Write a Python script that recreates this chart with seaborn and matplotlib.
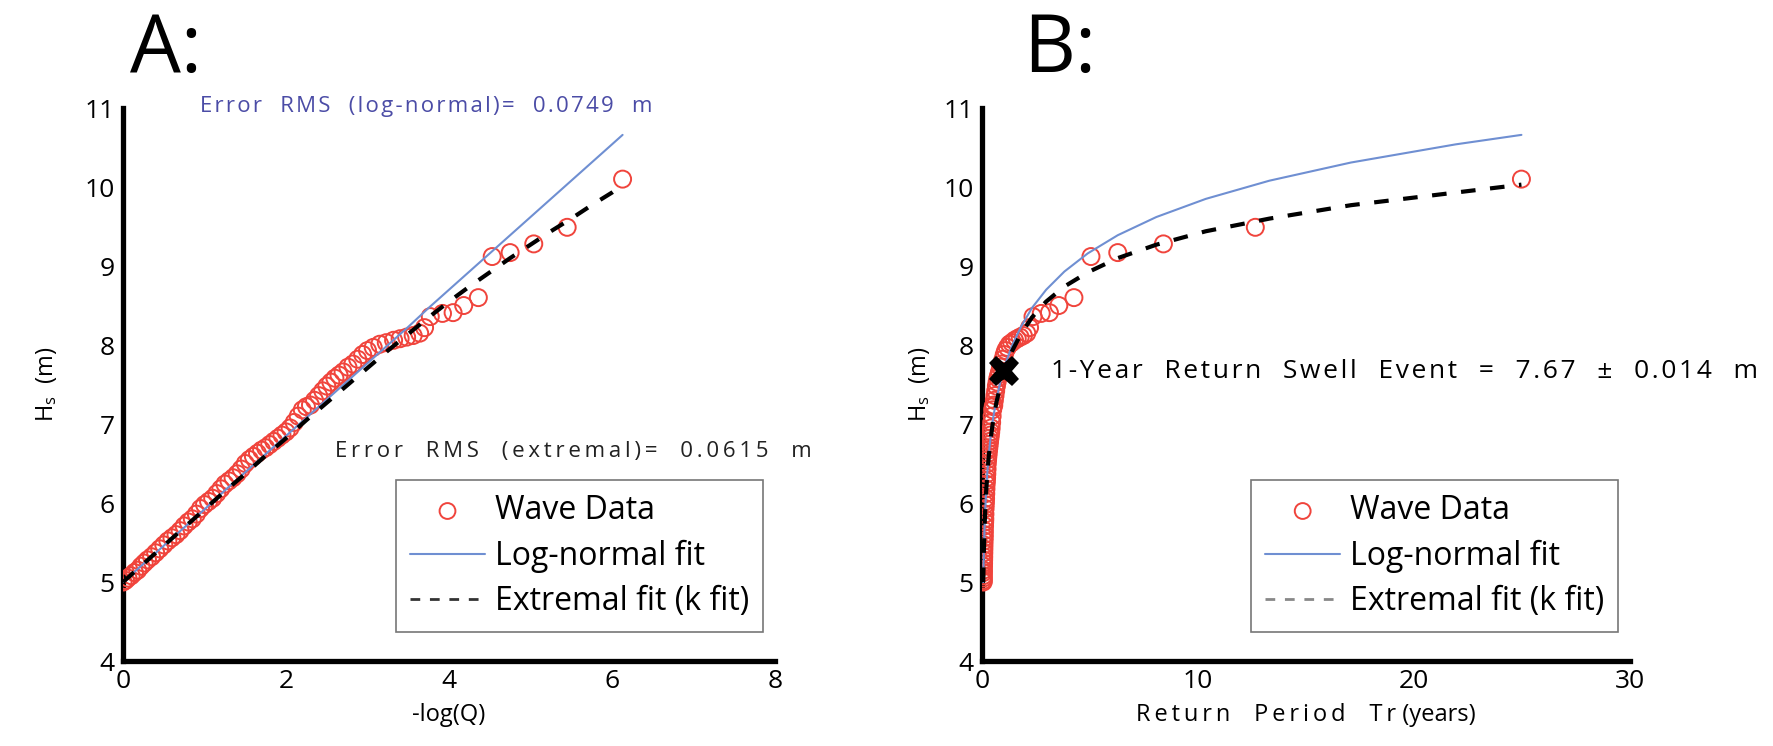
import numpy as np
import pandas as pd
import matplotlib
matplotlib.use("Agg")
import matplotlib.pyplot as plt
import seaborn as sns

# -----------------------------------------------------------------------------
# Data
# -----------------------------------------------------------------------------

# wave data: -log(Q) and significant wave height Hs (m)
neglogq = [
    0.00, 0.03, 0.06, 0.10, 0.14, 0.18, 0.22, 0.26, 0.30, 0.35,
    0.40, 0.45, 0.50, 0.55, 0.60, 0.65, 0.70, 0.75, 0.80, 0.85,
    0.90, 0.95, 1.00, 1.05, 1.10, 1.15, 1.20, 1.25, 1.30, 1.35,
    1.40, 1.45, 1.50, 1.55, 1.60, 1.65, 1.70, 1.75, 1.80, 1.85,
    1.90, 1.95, 2.00, 2.05, 2.10, 2.15, 2.20, 2.25, 2.30, 2.35,
    2.40, 2.45, 2.50, 2.55, 2.60, 2.65, 2.70, 2.76, 2.82, 2.88,
    2.94, 3.00, 3.07, 3.15, 3.23, 3.32, 3.40, 3.48, 3.56, 3.64,
    3.70, 3.77, 3.92, 4.05, 4.18, 4.36, 4.53, 4.75, 5.04, 5.45,
    6.13,
]
hs_data = [
    5.00, 5.02, 5.05, 5.08, 5.12, 5.15, 5.20, 5.24, 5.28, 5.32,
    5.37, 5.42, 5.47, 5.52, 5.56, 5.60, 5.65, 5.71, 5.76, 5.80,
    5.86, 5.93, 5.98, 6.02, 6.06, 6.12, 6.18, 6.24, 6.28, 6.32,
    6.37, 6.43, 6.50, 6.55, 6.59, 6.63, 6.67, 6.70, 6.74, 6.78,
    6.82, 6.86, 6.90, 6.95, 7.02, 7.10, 7.18, 7.22, 7.24, 7.30,
    7.36, 7.42, 7.48, 7.53, 7.58, 7.62, 7.66, 7.72, 7.76, 7.82,
    7.88, 7.93, 7.97, 8.01, 8.03, 8.06, 8.08, 8.10, 8.12, 8.15,
    8.22, 8.36, 8.40, 8.41, 8.50, 8.60, 9.12, 9.17, 9.28, 9.49,
    10.10,
]

# fitted curves, sampled in -log(Q)
fit_x = [0.0, 0.25, 0.5, 0.75, 1.0, 1.25, 1.5, 1.75, 2.0, 2.25, 2.5, 2.75,
         3.0, 3.25, 3.5, 3.75, 4.0, 4.25, 4.5, 4.75, 5.0, 5.25, 5.5, 5.75,
         6.0, 6.13]
lognormal_hs = [5.00, 5.23, 5.46, 5.69, 5.92, 6.16, 6.39, 6.62, 6.85, 7.08,
                7.31, 7.54, 7.77, 8.00, 8.23, 8.47, 8.70, 8.93, 9.16, 9.39,
                9.62, 9.85, 10.08, 10.31, 10.54, 10.66]
extremal_hs = [5.00, 5.23, 5.46, 5.69, 5.92, 6.15, 6.37, 6.60, 6.82, 7.05,
               7.27, 7.49, 7.71, 7.93, 8.14, 8.35, 8.55, 8.74, 8.92, 9.10,
               9.27, 9.44, 9.60, 9.77, 9.93, 10.03]

# events per year (links -log(Q) to return period Tr)
events_per_year = 18.4

one_year_tr = 1.0
one_year_hs = 7.67

rms_lognormal = 0.0749
rms_extremal = 0.0615

# -----------------------------------------------------------------------------
# Tables
# -----------------------------------------------------------------------------
waves = pd.DataFrame({"neglogq": neglogq, "hs": hs_data})
waves["tr"] = np.exp(waves["neglogq"]) / events_per_year

fits = pd.DataFrame({"neglogq": fit_x, "lognormal": lognormal_hs,
                     "extremal": extremal_hs})
fits["tr"] = np.exp(fits["neglogq"]) / events_per_year

# -----------------------------------------------------------------------------
# Style
# -----------------------------------------------------------------------------
sns.set_style("white")
plt.rcParams["font.family"] = ["Open Sans", "DejaVu Sans"]
plt.rcParams["mathtext.fontset"] = "custom"
plt.rcParams["mathtext.rm"] = "Open Sans"
plt.rcParams["mathtext.it"] = "Open Sans"
for key in ["text.color", "axes.labelcolor", "xtick.color", "ytick.color"]:
    plt.rcParams[key] = "black"

RED = "#f0443c"
BLUE = "#6f8fd2"
BLUE_TXT = "#4b4ca6"


def spaced(text, gap):
    # MATLAB-style letter spacing
    return gap.join(text)


fig = plt.figure(figsize=(17.73, 7.46), dpi=100)
ax_a = fig.add_axes([0.0694, 0.1139, 0.3677, 0.7413])
ax_b = fig.add_axes([0.5539, 0.1139, 0.3655, 0.7413])


def draw_panel(ax, xcol, ylabelpad):
    sns.scatterplot(data=waves, x=xcol, y="hs", ax=ax, marker="o",
                    facecolor="none", edgecolor=RED, linewidth=1.4, s=150,
                    label="Wave Data", zorder=3)
    sns.lineplot(data=fits, x=xcol, y="lognormal", ax=ax, color=BLUE,
                 linewidth=1.5, sort=False, label="Log-normal fit", zorder=4)
    sns.lineplot(data=fits, x=xcol, y="extremal", ax=ax, color="black",
                 linewidth=3.0, sort=False, dashes=False, zorder=5,
                 label="Extremal fit (k fit)")
    ax.lines[-1].set_linestyle((0, (3.5, 3.5)))

    ax.set_ylim(4, 11)
    ax.set_yticks(range(4, 12))
    for side in ["top", "right"]:
        ax.spines[side].set_visible(False)
    for side in ["left", "bottom"]:
        ax.spines[side].set_linewidth(3.8)
        ax.spines[side].set_color("black")
    ax.tick_params(axis="both", direction="in", length=4, width=3,
                   labelsize=19, pad=6)
    ax.set_ylabel(r"$\mathrm{H_s}$  (m)", fontsize=17, labelpad=ylabelpad)

    leg = ax.legend(loc="lower right", bbox_to_anchor=(0.982, 0.052),
                    fontsize=23, frameon=True, fancybox=False,
                    handlelength=2.35, handletextpad=0.3, borderpad=0.45,
                    labelspacing=0.38, borderaxespad=0)
    leg.get_frame().set_edgecolor("#555555")
    leg.get_frame().set_linewidth(1.2)
    leg.legend_handles[0].set_sizes([130])
    leg.legend_handles[2].set_linewidth(2.0)
    leg.legend_handles[2].set_color("#333333" if ax is ax_a else "#888888")


draw_panel(ax_a, "neglogq", 18)
ax_a.set_xlim(0, 8)
ax_a.set_xticks(range(0, 9, 2))
ax_a.set_xlabel("-log(Q)", fontsize=17, labelpad=6)
ax_a.text(0.95, 11.02,
          spaced(f"Error  RMS  (log-normal)=  {rms_lognormal:.4f}  m", "\u200a"),
          color=BLUE_TXT, fontsize=16, va="center", ha="left", clip_on=False)
ax_a.text(2.6, 6.65,
          spaced(f"Error  RMS  (extremal)=  {rms_extremal:.4f}  m", "\u2009"),
          color="#222222", fontsize=16, va="center", ha="left", clip_on=False)

draw_panel(ax_b, "tr", 8)
ax_b.set_xlim(0, 30)
ax_b.set_xticks(range(0, 31, 10))
ax_b.set_xlabel(spaced("Return  Period  Tr", "\u2009") + " (years)",
                fontsize=17, labelpad=6)
ax_b.plot([one_year_tr], [one_year_hs], marker="X", markersize=22,
          color="black", markeredgewidth=0, zorder=6)
ax_b.text(3.2, one_year_hs,
          spaced(f"1-Year  Return  Swell  Event  =  {one_year_hs:.2f}  \u00b1  0.014  m",
                 "\u200a"),
          fontsize=19, va="center", ha="left", clip_on=False)

fig.text(130 / 1773, 1 - 72 / 746, "A:", fontsize=58, va="baseline",
         ha="left")
fig.text(1023 / 1773, 1 - 72 / 746, "B:", fontsize=58, va="baseline",
         ha="left")

fig.savefig("out.png", dpi=100)
